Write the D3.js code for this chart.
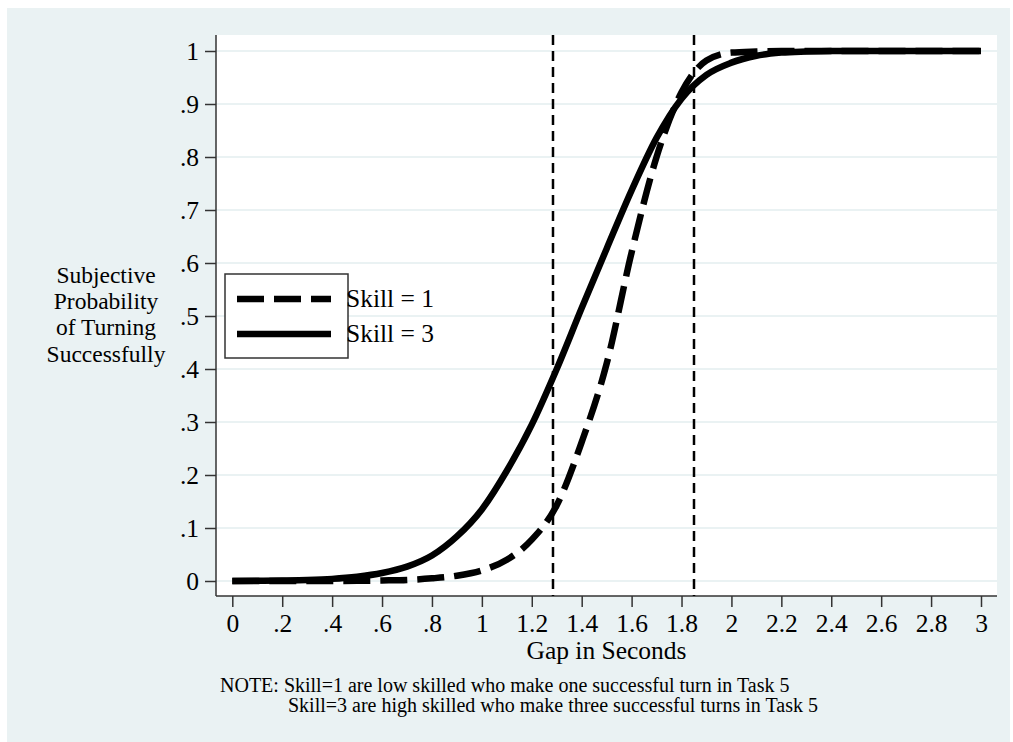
<!DOCTYPE html>
<html>
<head>
<meta charset="utf-8">
<script src="https://cdn.jsdelivr.net/npm/d3@7"></script>
<style>
  body { margin: 0; background: #fff; }
  text { font-family: "Liberation Serif", "Times New Roman", serif; fill: #000; }
</style>
</head>
<body>
<div id="app"></div>
<script>
// data
var gapSeconds = [0, .1, .2, .3, .4, .5, .6, .7, .8, .9, 1, 1.1, 1.2, 1.3, 1.4, 1.5, 1.6, 1.7, 1.8, 1.9, 2, 2.1, 2.2, 2.3, 2.4, 2.5, 2.6, 2.7, 2.8, 2.9, 3];
var skill1 = [0, 0, 0, 0, .0001, .0003, .001, .002, .005, .01, .02, .04, .078, .143, .262, .41, .62, .80, .922, .982, .997, .999, 1, 1, 1, 1, 1, 1, 1, 1, 1];
var skill3 = [0, .0003, .001, .002, .004, .008, .015, .027, .048, .084, .135, .208, .295, .40, .515, .627, .737, .836, .91, .955, .978, .991, .997, .999, 1, 1, 1, 1, 1, 1, 1];
var cutoffs = [1.285, 1.85];
var xTicks = [0, .2, .4, .6, .8, 1, 1.2, 1.4, 1.6, 1.8, 2, 2.2, 2.4, 2.6, 2.8, 3];
var yTicks = [0, .1, .2, .3, .4, .5, .6, .7, .8, .9, 1];
var legendLabels = ["Skill = 1", "Skill = 3"];
var noteLines = ["NOTE: Skill=1 are low skilled who make one successful turn in Task 5",
                 "Skill=3 are high skilled who make three successful turns in Task 5"];
var yTitle = ["Subjective", "Probability", "of Turning", "Successfully"];

var W = 1013, H = 742;
var plot = {left: 216, right: 997, top: 35, bottom: 596};

var svg = d3.select("#app").append("svg")
    .attr("width", W).attr("height", H);

//outer background
svg.append("rect")
    .attr("x", 7).attr("y", 8)
    .attr("width", 1003).attr("height", 734)
    .attr("fill", "#eaf2f3");

//plot region
svg.append("rect")
    .attr("x", plot.left).attr("y", plot.top)
    .attr("width", plot.right - plot.left).attr("height", plot.bottom - plot.top)
    .attr("fill", "#fff");

var x = d3.scaleLinear().domain([0, 3]).range([232.3, 981]);
var y = d3.scaleLinear().domain([0, 1]).range([581, 51]);

// grid lines
svg.append("g").selectAll("line")
    .data(yTicks).enter()
    .append("line")
      .attr("x1", plot.left).attr("x2", plot.right)
      .attr("y1", function(d) { return y(d); })
      .attr("y2", function(d) { return y(d); })
      .attr("stroke", "#eaf2f3")
      .attr("stroke-width", 2);

var fmt = function(d) { return Number.isInteger(d) ? d3.format("d")(d) : d3.format(".1f")(d).replace(/^0/, ""); };

// y axis
var yAxis = svg.append("g")
    .attr("transform", "translate(" + plot.left + ",0)")
    .call(d3.axisLeft(y).tickValues(yTicks).tickSize(11).tickPadding(6).tickFormat(fmt));
yAxis.select(".domain").attr("d", "M0," + plot.top + "V" + plot.bottom);

// x axis
var xAxis = svg.append("g")
    .attr("transform", "translate(0," + plot.bottom + ")")
    .call(d3.axisBottom(x).tickValues(xTicks).tickSize(11).tickPadding(7).tickFormat(fmt));
xAxis.select(".domain").attr("d", "M" + plot.left + ",0H" + plot.right);

svg.selectAll(".domain, .tick line").attr("stroke", "#333").attr("stroke-width", 1.5);
svg.selectAll(".tick text")
    .attr("font-family", "Liberation Serif")
    .attr("font-size", 25.5)
    .attr("fill", "#000");
yAxis.selectAll(".tick text").attr("dy", "0.34em");

// cutoff lines
svg.append("g").selectAll("line")
    .data(cutoffs).enter()
    .append("line")
      .attr("x1", function(d) { return x(d); })
      .attr("x2", function(d) { return x(d); })
      .attr("y1", plot.top).attr("y2", plot.bottom)
      .attr("stroke", "#000")
      .attr("stroke-width", 2.5)
      .attr("stroke-dasharray", "10,6");

// curves
var line = d3.line()
    .x(function(d) { return x(d[0]); })
    .y(function(d) { return y(d[1]); })
    .curve(d3.curveMonotoneX);

svg.append("path")
    .datum(d3.zip(gapSeconds, skill3))
    .attr("d", line)
    .attr("fill", "none").attr("stroke", "#000").attr("stroke-width", 6.5);

svg.append("path")
    .datum(d3.zip(gapSeconds, skill1))
    .attr("d", line)
    .attr("fill", "none").attr("stroke", "#000").attr("stroke-width", 6.5)
    .attr("stroke-dasharray", "27,10");

// legend
var leg = svg.append("g");
leg.append("rect")
    .attr("x", 225).attr("y", 274)
    .attr("width", 123).attr("height", 84)
    .attr("fill", "#fff").attr("stroke", "#333").attr("stroke-width", 1.5);
leg.selectAll(".lline")
    .data(legendLabels).enter()
    .append("line")
      .attr("x1", 237).attr("x2", 331)
      .attr("y1", function(d, i) { return 299 + i * 35; })
      .attr("y2", function(d, i) { return 299 + i * 35; })
      .attr("stroke", "#000").attr("stroke-width", 6.5)
      .attr("stroke-dasharray", function(d, i) { return i === 0 ? "27,10" : null; });
leg.selectAll("text")
    .data(legendLabels).enter()
    .append("text")
      .attr("x", 346)
      .attr("y", function(d, i) { return 307 + i * 35; })
      .attr("font-size", 25.5)
      .text(function(d) { return d; });

// axis titles
svg.append("text")
    .attr("x", (plot.left + plot.right) / 2).attr("y", 659)
    .attr("text-anchor", "middle")
    .attr("font-size", 25.5)
    .text("Gap in Seconds");

svg.append("g").selectAll("text")
    .data(yTitle).enter()
    .append("text")
      .attr("x", 106)
      .attr("y", function(d, i) { return 283 + i * 26.2; })
      .attr("text-anchor", "middle")
      .attr("font-size", 23.5)
      .text(function(d) { return d; });

// note
svg.append("g").selectAll("text")
    .data(noteLines).enter()
    .append("text")
      .attr("x", function(d, i) { return i === 0 ? 220 : 288; })
      .attr("y", function(d, i) { return 692 + i * 20; })
      .attr("font-size", 20)
      .text(function(d) { return d; });
</script>
</body>
</html>
